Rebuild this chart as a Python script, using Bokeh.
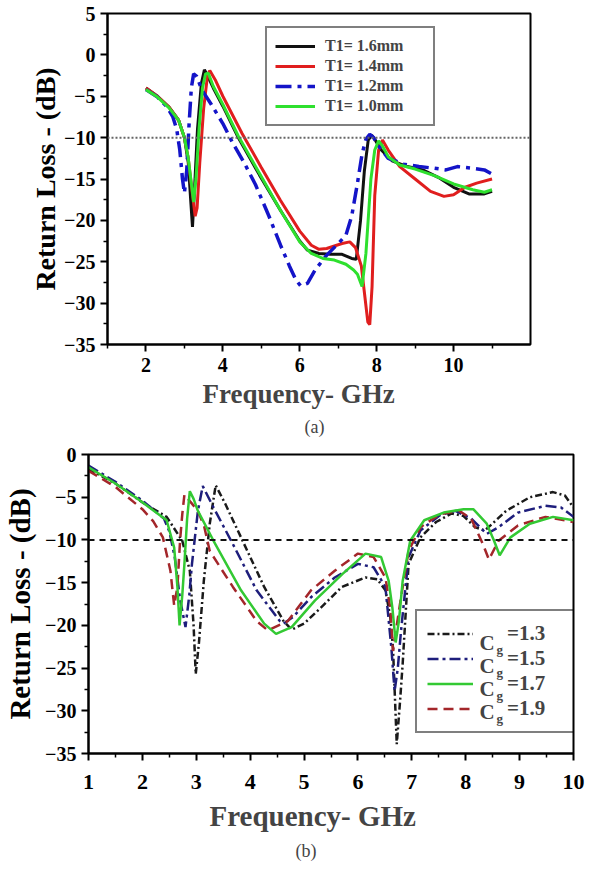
from bokeh.plotting import figure
from bokeh.models import FixedTicker, Span, Legend, LegendItem, Label, Title
from bokeh.embed import file_html
from bokeh.resources import INLINE

FONT = "Liberation Serif"

# ---------------- data: panel (a) ----------------
A_LABELS = ["T1= 1.6mm", "T1= 1.4mm", "T1= 1.2mm", "T1= 1.0mm"]

A16_F = [2.0, 2.3, 2.6, 2.85, 3.0, 3.1, 3.17, 3.21, 3.26, 3.34, 3.44, 3.52, 3.6, 3.75, 4.0, 4.4, 4.95,
         5.5, 6.0, 6.2, 6.5, 6.8, 7.1, 7.35, 7.47, 7.58, 7.68, 7.78, 7.87, 7.95, 8.1, 8.4, 8.8, 9.2,
         9.6, 10.0, 10.4, 10.8, 11.0]
A16_RL = [-4.0, -5.0, -6.3, -7.9, -10.0, -13.0, -18.0, -20.8, -16.5, -9.0, -3.5, -1.8, -2.5, -4.0, -6.2,
          -10.0, -14.5, -18.8, -22.5, -23.6, -24.0, -24.1, -24.1, -24.6, -24.7, -20.0, -14.0, -10.3, -9.7,
          -10.2, -11.4, -12.8, -13.5, -13.9, -14.8, -16.0, -16.8, -16.8, -16.5]

A14_F = [2.0, 2.3, 2.6, 2.85, 3.0, 3.1, 3.2, 3.28, 3.33, 3.4, 3.5, 3.6, 3.66, 3.8, 4.0, 4.5, 5.0, 5.5,
         6.0, 6.3, 6.5, 6.7, 6.9, 7.1, 7.3, 7.45, 7.6, 7.7, 7.77, 7.82, 7.88, 7.95, 8.05, 8.15, 8.3, 8.6,
         9.0, 9.4, 9.75, 10.0, 10.3, 10.6, 11.0]
A14_RL = [-4.0, -5.0, -6.3, -7.9, -10.0, -12.5, -16.5, -19.5, -18.5, -13.0, -6.5, -2.5, -1.9, -3.0, -5.0,
          -9.5, -13.6, -17.6, -21.3, -23.0, -23.5, -23.4, -23.1, -22.8, -22.6, -23.3, -25.5, -29.5, -32.3,
          -32.6, -28.0, -17.0, -11.5, -10.3, -11.5, -13.5, -15.0, -16.5, -17.1, -16.9, -16.0, -15.5, -15.0]

A12_F = [2.0, 2.3, 2.55, 2.7, 2.8, 2.88, 2.95, 3.0, 3.06, 3.12, 3.18, 3.24, 3.32, 3.45, 3.7, 4.0, 4.25,
         4.55, 4.85, 5.2, 5.5, 5.73, 5.9, 6.02, 6.2, 6.4, 6.7, 7.0, 7.2, 7.35, 7.5, 7.62, 7.72, 7.82, 7.92,
         8.05, 8.3, 8.7, 9.1, 9.5, 9.8, 10.1, 10.5, 10.8, 11.0]
A12_RL = [-4.2, -5.1, -6.3, -7.5, -9.0, -11.5, -15.0, -16.7, -14.0, -8.5, -4.0, -2.3, -2.6, -4.2, -6.0,
          -8.3, -10.6, -13.0, -15.7, -19.5, -23.0, -25.5, -27.2, -27.9, -27.6, -26.0, -24.2, -22.8, -21.8,
          -19.5, -15.5, -12.0, -10.2, -9.6, -10.0, -11.0, -12.5, -13.2, -13.5, -13.7, -13.9, -13.5, -13.7,
          -13.9, -14.4]

A10_F = [2.0, 2.3, 2.6, 2.85, 3.0, 3.1, 3.18, 3.24, 3.3, 3.38, 3.47, 3.55, 3.62, 3.75, 4.0, 4.4, 4.95,
         5.5, 6.0, 6.3, 6.6, 6.9, 7.2, 7.4, 7.5, 7.62, 7.72, 7.85, 7.95, 8.05, 8.15, 8.3, 8.6, 9.0, 9.5,
         10.0, 10.5, 10.8, 11.0]
A10_RL = [-4.2, -5.1, -6.4, -7.9, -10.0, -12.5, -15.5, -17.8, -15.0, -9.0, -4.0, -2.3, -2.2, -3.8, -6.0,
          -9.8, -14.3, -18.8, -22.6, -24.0, -24.6, -24.8, -25.3, -26.0, -26.5, -28.0, -24.0, -15.0, -11.5,
          -10.4, -11.0, -12.3, -13.3, -13.8, -14.6, -15.6, -16.3, -16.6, -16.3]

A_X_TICKS = [2, 4, 6, 8, 10]
A_X_MINOR = [1, 3, 5, 7, 9, 11]
A_Y_TICKS = [5, 0, -5, -10, -15, -20, -25, -30, -35]
A_Y_MINOR = [2.5, -2.5, -7.5, -12.5, -17.5, -22.5, -27.5, -32.5]
A_X_RANGE = (1, 12)
A_Y_RANGE = (-35, 5)

# ---------------- data: panel (b) ----------------
B_VALUES = ["1.3", "1.5", "1.7", "1.9"]

B13_F = [1.0, 1.5, 2.0, 2.45, 2.74, 2.88, 2.95, 2.99, 3.05, 3.14, 3.25, 3.36, 3.54, 3.83, 4.26, 4.62,
         4.77, 5.0, 5.35, 5.7, 6.14, 6.36, 6.51, 6.6, 6.65, 6.72, 6.78, 6.83, 6.94, 7.16, 7.45, 7.74, 7.96,
         8.17, 8.35, 8.46, 8.75, 9.19, 9.62, 9.84, 10.0]
B13_RL = [-1.7, -3.4, -5.6, -7.3, -10.1, -13.6, -20.0, -25.7, -22.0, -14.8, -8.1, -3.6, -5.8, -9.7, -15.5,
          -19.5, -20.5, -19.8, -17.7, -15.5, -14.4, -14.6, -15.9, -19.0, -22.6, -33.9, -29.0, -24.5, -12.8,
          -9.7, -7.9, -6.9, -7.2, -8.5, -8.9, -8.3, -6.6, -5.0, -4.4, -4.8, -6.2]

B15_F = [1.0, 1.5, 2.0, 2.4, 2.5, 2.6, 2.7, 2.8, 2.87, 2.92, 3.03, 3.12, 3.32, 3.68, 4.12, 4.55, 4.62,
         4.8, 5.13, 5.57, 6.0, 6.29, 6.51, 6.62, 6.68, 6.74, 6.8, 6.94, 7.16, 7.52, 7.81, 8.1, 8.39, 8.61,
         8.97, 9.48, 9.77, 10.0]
B15_RL = [-1.3, -3.2, -5.4, -7.5, -9.0, -12.0, -17.0, -20.2, -16.5, -12.8, -6.6, -3.7, -6.2, -10.5, -15.9,
          -19.5, -19.8, -19.0, -16.7, -14.4, -12.8, -13.2, -15.5, -22.6, -27.7, -25.0, -20.6, -12.0, -8.9,
          -7.1, -6.6, -7.5, -9.3, -8.5, -6.8, -6.0, -6.2, -7.3]

B17_F = [1.0, 1.5, 2.0, 2.45, 2.59, 2.65, 2.69, 2.74, 2.78, 2.83, 2.88, 2.95, 3.03, 3.32, 3.83, 4.26,
         4.48, 4.77, 5.2, 5.71, 6.14, 6.43, 6.57, 6.64, 6.7, 6.76, 6.83, 6.97, 7.23, 7.59, 7.96, 8.14,
         8.39, 8.52, 8.63, 8.83, 9.19, 9.62, 10.0]
B17_RL = [-1.5, -3.4, -5.6, -7.7, -10.9, -15.5, -20.0, -16.5, -12.8, -7.5, -4.3, -5.2, -6.6, -10.1, -15.9,
          -19.8, -21.0, -20.2, -17.1, -14.0, -11.6, -12.0, -14.8, -18.0, -22.0, -19.5, -14.8, -10.1, -7.7,
          -6.8, -6.4, -6.4, -8.1, -10.0, -11.8, -9.7, -8.1, -7.3, -7.7]

B19_F = [1.0, 1.5, 2.0, 2.2, 2.38, 2.52, 2.59, 2.65, 2.7, 2.74, 2.78, 2.9, 3.03, 3.15, 3.25, 3.68, 4.12,
         4.33, 4.7, 5.13, 5.57, 6.0, 6.29, 6.51, 6.6, 6.65, 6.72, 6.8, 6.94, 7.16, 7.52, 7.88, 8.1, 8.32,
         8.43, 8.61, 8.97, 9.48, 10.0]
B19_RL = [-1.9, -3.8, -6.4, -7.8, -9.7, -13.6, -17.7, -15.5, -10.0, -7.0, -4.7, -5.6, -6.6, -8.5, -11.3,
          -15.5, -19.5, -20.6, -19.5, -15.9, -13.6, -11.6, -12.0, -14.4, -18.0, -23.0, -20.0, -16.7, -11.3,
          -8.5, -7.0, -6.6, -7.5, -10.5, -12.3, -10.1, -8.3, -7.3, -7.9]

B_X_TICKS = [1, 2, 3, 4, 5, 6, 7, 8, 9, 10]
B_X_MINOR = [1.5, 2.5, 3.5, 4.5, 5.5, 6.5, 7.5, 8.5, 9.5]
B_Y_TICKS = [0, -5, -10, -15, -20, -25, -30, -35]
B_Y_MINOR = [-2.5, -7.5, -12.5, -17.5, -22.5, -27.5, -32.5]
B_X_RANGE = (1, 10)
B_Y_RANGE = (-35, 0)

THRESHOLD_DB = -10


def base_fig(width, height, x_range, y_range, left, right, top, bottom,
             xt, xm, yt, ym, xfs, yfs, ylabel_fs, ylabel_standoff, x_standoff):
    p = figure(width=width, height=height, x_range=x_range, y_range=y_range,
               output_backend="svg", toolbar_location=None,
               min_border_left=left, min_border_right=right,
               min_border_top=top, min_border_bottom=bottom)
    p.grid.visible = False
    p.background_fill_color = "white"
    p.border_fill_color = "white"
    p.outline_line_color = "black"
    p.outline_line_width = 2
    p.xaxis.ticker = FixedTicker(ticks=xt, minor_ticks=xm)
    p.yaxis.ticker = FixedTicker(ticks=yt, minor_ticks=ym)
    for ax in (p.xaxis[0], p.yaxis[0]):
        ax.axis_line_width = 2
        ax.axis_line_color = "black"
        ax.major_tick_line_width = 2
        ax.minor_tick_line_width = 1.5
        ax.major_tick_out = 7
        ax.major_tick_in = 0
        ax.minor_tick_out = 4
        ax.minor_tick_in = 0
        ax.major_label_text_font = FONT
        ax.major_label_text_font_style = "bold"
        ax.major_label_text_color = "black"
        ax.major_label_standoff = 5
    p.xaxis.major_label_standoff = x_standoff
    p.xaxis.major_label_text_font_size = xfs
    p.yaxis.major_label_text_font_size = yfs
    p.yaxis.axis_label = "Return Loss - (dB)"
    p.yaxis.axis_label_text_font = FONT
    p.yaxis.axis_label_text_font_style = "bold"
    p.yaxis.axis_label_text_font_size = ylabel_fs
    p.yaxis.axis_label_text_color = "black"
    p.yaxis.axis_label_standoff = ylabel_standoff
    return p


# ---------------- panel (a) ----------------
pa = base_fig(601, 440, A_X_RANGE, A_Y_RANGE, 107, 71, 13, 95,
              A_X_TICKS, A_X_MINOR, A_Y_TICKS, A_Y_MINOR, "20px", "20px", "28px", 0, 6)
pa.add_layout(Span(location=THRESHOLD_DB, dimension="width", line_color="#666666",
                   line_dash="2 2", line_width=2))
ra16 = pa.line(A16_F, A16_RL, line_color="#111111", line_width=3)
ra14 = pa.line(A14_F, A14_RL, line_color="#e01e1e", line_width=3)
ra12 = pa.line(A12_F, A12_RL, line_color="#1414c8", line_width=3.5, line_dash="16 6 4 6")
ra10 = pa.line(A10_F, A10_RL, line_color="#2ee02e", line_width=3)
leg_a = Legend(items=[LegendItem(label=l, renderers=[r]) for l, r in
                      zip(A_LABELS, [ra16, ra14, ra12, ra10])],
               location=(158, 218), padding=8, spacing=0, label_height=20, glyph_height=20,
               glyph_width=40, label_standoff=10, label_width=100,
               label_text_font=FONT, label_text_font_style="bold", label_text_font_size="16px",
               border_line_color="black", border_line_width=2, background_fill_alpha=1)
pa.add_layout(leg_a, "center")
pa.add_layout(Title(text="Frequency- GHz", align="left", offset=95, standoff=5,
                    text_font=FONT, text_font_style="bold", text_font_size="27px"), "below")
pa.add_layout(Title(text="(a)", align="left", offset=197, standoff=7,
                    text_font=FONT, text_font_style="normal", text_font_size="18px"), "below")

# ---------------- panel (b) ----------------
pb = base_fig(601, 422, B_X_RANGE, B_Y_RANGE, 88, 28, 14, 107,
              B_X_TICKS, B_X_MINOR, B_Y_TICKS, B_Y_MINOR, "22px", "20px", "29px", 6, 14)
pb.add_layout(Span(location=THRESHOLD_DB, dimension="width", line_color="#111111",
                   line_dash="6 5", line_width=2))
rb13 = pb.line(B13_F, B13_RL, line_color="#1a1a1a", line_width=2.5, line_dash="7 3 2 3")
rb15 = pb.line(B15_F, B15_RL, line_color="#1e1e7c", line_width=2.5, line_dash="11 4 3 4")
rb19 = pb.line(B19_F, B19_RL, line_color="#a3262a", line_width=2.5, line_dash="10 6")
rb17 = pb.line(B17_F, B17_RL, line_color="#33c933", line_width=2.5)

LEG_B_X, LEG_B_Y, LEG_B_PAD, LEG_B_ROW, LEG_B_GLYPH, LEG_B_STANDOFF = 327, 20, 10, 23, 46, 34
leg_b = Legend(items=[LegendItem(label="=" + v, renderers=[r]) for v, r in
                      zip(B_VALUES, [rb13, rb15, rb17, rb19])],
               location=(LEG_B_X, LEG_B_Y), padding=LEG_B_PAD, spacing=0,
               label_height=LEG_B_ROW, glyph_height=LEG_B_ROW, glyph_width=LEG_B_GLYPH,
               label_standoff=LEG_B_STANDOFF, label_width=64,
               label_text_font=FONT, label_text_font_style="bold", label_text_font_size="21px",
               border_line_color="black", border_line_width=2, background_fill_alpha=0)
pb.add_layout(leg_b, "center")
top_b = LEG_B_Y + 2 * LEG_B_PAD + LEG_B_ROW * len(B_VALUES)
c_x = LEG_B_X + LEG_B_PAD + LEG_B_GLYPH + 8
for i in range(len(B_VALUES)):
    yc = top_b - LEG_B_PAD - LEG_B_ROW / 2 - i * LEG_B_ROW
    pb.add_layout(Label(x=c_x, y=yc, x_units="screen", y_units="screen", text="C",
                        text_font=FONT, text_font_style="bold", text_font_size="21px",
                        text_baseline="middle", text_align="left", level="overlay"))
    pb.add_layout(Label(x=c_x + 17, y=yc - 6, x_units="screen", y_units="screen", text="g",
                        text_font=FONT, text_font_style="bold", text_font_size="13px",
                        text_baseline="middle", text_align="left", level="overlay"))
pb.add_layout(Title(text="Frequency- GHz", align="left", offset=121, standoff=12,
                    text_font=FONT, text_font_style="bold", text_font_size="29px"), "below")
pb.add_layout(Title(text="(b)", align="left", offset=207, standoff=3,
                    text_font=FONT, text_font_style="normal", text_font_size="18px"), "below")

open("out.html", "w").write(file_html([pa, pb], INLINE))
